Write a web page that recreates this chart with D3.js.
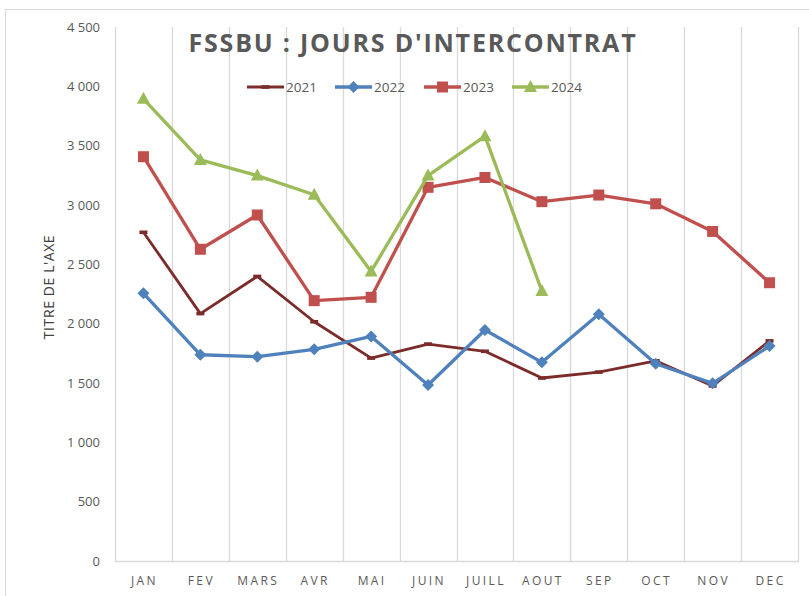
<!DOCTYPE html>
<html>
<head>
<meta charset="utf-8">
<script src="https://cdn.jsdelivr.net/npm/d3@7"></script>
<style>
  body { margin: 0; background: #fff; }
  text { font-family: "Open Sans", "Liberation Sans", sans-serif; }
</style>
</head>
<body>
<div id="chart"></div>
<script>
// Data
const months = ['JAN', 'FEV', 'MARS', 'AVR', 'MAI', 'JUIN', 'JUILL', 'AOUT', 'SEP', 'OCT', 'NOV', 'DEC'];
const years = ['2021', '2022', '2023', '2024'];
const values2021 = [2770, 2085, 2398, 2016, 1710, 1828, 1767, 1542, 1592, 1687, 1475, 1855];
const values2022 = [2256, 1738, 1722, 1784, 1892, 1483, 1947, 1674, 2079, 1662, 1497, 1812];
const values2023 = [3407, 2627, 2916, 2194, 2222, 3149, 3232, 3028, 3084, 3010, 2777, 2345];
const values2024 = [3895, 3380, 3248, 3086, 2440, 3248, 3580, 2275];
const yTicks = [0, 500, 1000, 1500, 2000, 2500, 3000, 3500, 4000, 4500];

const series = [
    { name: '2021', values: values2021, color: '#7B2C2A', marker: 'dash', width: 2.8 },
    { name: '2022', values: values2022, color: '#4F81BD', marker: 'diamond', width: 3.3 },
    { name: '2023', values: values2023, color: '#C0504D', marker: 'square', width: 3.3 },
    { name: '2024', values: values2024, color: '#9BBB59', marker: 'triangle', width: 3.3 }
];

const W = 809, H = 596;
const margin = { top: 27, right: 11, bottom: 35, left: 115 };
const width = W - margin.left - margin.right;
const height = H - margin.top - margin.bottom;

const svg = d3.select('#chart').append('svg')
    .attr('width', W).attr('height', H);

// chart border
svg.append('rect')
    .attr('x', 5.5).attr('y', 9.5)
    .attr('width', W + 10).attr('height', H + 10)
    .attr('fill', 'none').attr('stroke', '#D9D9D9').attr('stroke-width', 1);

const g = svg.append('g').attr('transform', `translate(${margin.left},${margin.top})`);

const xScale = d3.scaleBand().domain(months).range([0, width]).padding(0);
const yScale = d3.scaleLinear().domain([0, 4500]).range([height, 0]);

// vertical gridlines at category boundaries
const bounds = months.map(m => xScale(m)).concat([width]);
g.selectAll('.vgrid')
    .data(bounds)
    .join('line')
    .attr('x1', d => Math.round(d) + 0.5).attr('x2', d => Math.round(d) + 0.5)
    .attr('y1', 0).attr('y2', height)
    .attr('stroke', '#D9D9D9').attr('stroke-width', 1.3);

// x axis line
g.append('line')
    .attr('x1', 0).attr('x2', width + 1)
    .attr('y1', height + 0.5).attr('y2', height + 0.5)
    .attr('stroke', '#D9D9D9').attr('stroke-width', 1.3);

// y tick labels (space as thousands separator)
const fmt = v => d3.format(',')(v).replace(/,/g, ' ');
g.selectAll('.ytick')
    .data(yTicks)
    .join('text')
    .attr('x', -15)
    .attr('y', d => yScale(d))
    .attr('dy', '0.35em')
    .attr('text-anchor', 'end')
    .attr('font-size', 13)
    .attr('fill', '#595959')
    .text(d => fmt(d));

// x labels
g.selectAll('.xtick')
    .data(months)
    .join('text')
    .attr('x', d => xScale(d) + xScale.bandwidth() / 2 + 1)
    .attr('y', height + 24)
    .attr('text-anchor', 'middle')
    .attr('font-size', 12)
    .attr('letter-spacing', 2.4)
    .attr('fill', '#595959')
    .text(d => d);

// y axis title
svg.append('text')
    .attr('transform', 'translate(54,287) rotate(-90)')
    .attr('text-anchor', 'middle')
    .attr('font-size', 14)
    .attr('letter-spacing', 0.6)
    .attr('fill', '#404040')
    .text("TITRE DE L'AXE");

// title
svg.append('text')
    .attr('x', 413).attr('y', 52)
    .attr('text-anchor', 'middle')
    .attr('font-size', 25)
    .attr('font-weight', 'bold')
    .attr('letter-spacing', 1.8)
    .attr('fill', '#595959')
    .text("FSSBU : JOURS D'INTERCONTRAT");

// marker drawing
const drawMarker = (sel, type, color) => {
    if (type === 'dash') {
        sel.append('rect').attr('x', -4).attr('y', -1.8).attr('width', 8).attr('height', 3.6).attr('fill', color);
    } else if (type === 'diamond') {
        sel.append('path').attr('d', 'M0,-6L6,0L0,6L-6,0Z').attr('fill', color);
    } else if (type === 'square') {
        sel.append('rect').attr('x', -5.5).attr('y', -5.5).attr('width', 11).attr('height', 11).attr('fill', color);
    } else if (type === 'triangle') {
        sel.append('path').attr('d', 'M0,-7L6.5,5L-6.5,5Z').attr('fill', color);
    }
};

const line = d3.line()
    .x((d, i) => xScale(months[i]) + xScale.bandwidth() / 2)
    .y(d => yScale(d));

series.forEach(s => {
    g.append('path')
        .datum(s.values)
        .attr('fill', 'none')
        .attr('stroke', s.color)
        .attr('stroke-width', s.width)
        .attr('stroke-linejoin', 'round')
        .attr('d', line);
    s.values.forEach((v, i) => {
        const mg = g.append('g')
            .attr('transform', `translate(${xScale(months[i]) + xScale.bandwidth() / 2},${yScale(v)})`);
        drawMarker(mg, s.marker, s.color);
    });
});

// legend
const legendX = [247, 335, 424, 512];
series.forEach((s, i) => {
    const lg = svg.append('g').attr('transform', `translate(${legendX[i]},87)`);
    lg.append('line').attr('x1', 0).attr('x2', 37).attr('y1', 0).attr('y2', 0)
        .attr('stroke', s.color).attr('stroke-width', s.width);
    const mg = lg.append('g').attr('transform', 'translate(18.5,0)');
    drawMarker(mg, s.marker, s.color);
    lg.append('text').attr('x', 39).attr('y', 0).attr('dy', '0.35em')
        .attr('font-size', 13.5).attr('fill', '#595959').text(s.name);
});
</script>
</body>
</html>
